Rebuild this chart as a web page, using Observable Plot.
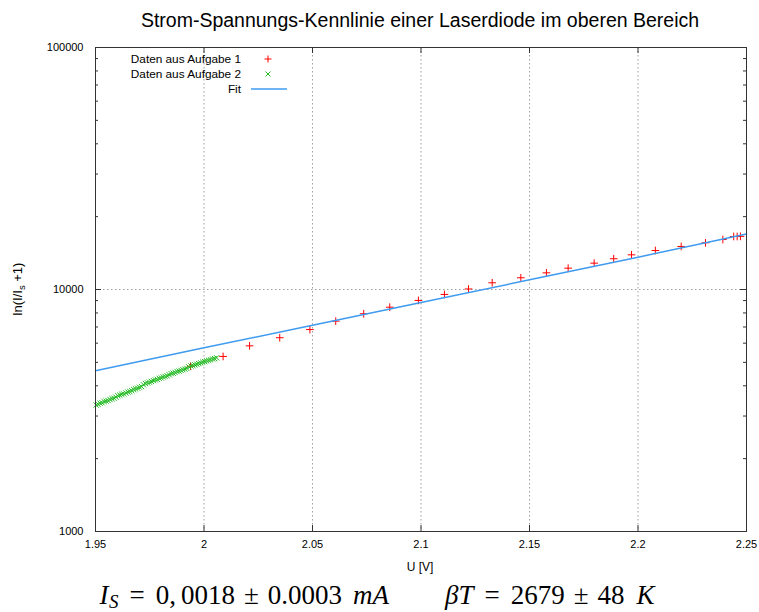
<!DOCTYPE html>
<html><head><meta charset="utf-8">
<script src="https://cdn.jsdelivr.net/npm/d3@7"></script>
<script src="https://cdn.jsdelivr.net/npm/@observablehq/plot@0.6"></script>
<style>body{margin:0;background:#fff} #chart{width:759px;height:612px}</style>
</head><body><div id="chart"></div>
<script>
const titleText = "Strom-Spannungs-Kennlinie einer Laserdiode im oberen Bereich";
const xLabel = "U [V]";
const legendLabels = ["Daten aus Aufgabe 1", "Daten aus Aufgabe 2", "Fit"];
const xTicks = [1.95, 2, 2.05, 2.1, 2.15, 2.2, 2.25];
const xTickLabels = ["1.95", "2", "2.05", "2.1", "2.15", "2.2", "2.25"];
const yTicks = [1000, 10000, 100000];
const yTickLabels = ["1000", "10000", "100000"];
const yMinorTicks = [2000,3000,4000,5000,6000,7000,8000,9000,20000,30000,40000,50000,60000,70000,80000,90000];

// Daten aus Aufgabe 1
const a1U = [1.9938,2.0088,2.0210,2.0349,2.0488,2.0607,2.0736,2.0856,2.0988,2.1108,2.1219,2.1328,2.1460,2.1578,2.1678,2.1798,2.1888,2.1970,2.2080,2.2199,2.2311,2.2391,2.2441,2.2457,2.2472];
const a1V = [4820,5290,5850,6320,6830,7400,7940,8450,9010,9540,10050,10660,11180,11720,12250,12850,13400,13910,14490,15060,15600,16090,16560,16560,16580];

// Daten aus Aufgabe 2
const a2U = [1.9503,1.9512,1.9521,1.9530,1.9540,1.9549,1.9558,1.9567,1.9576,1.9585,1.9594,1.9603,1.9612,1.9621,1.9630,1.9640,1.9649,1.9658,1.9667,1.9676,1.9685,1.9694,1.9703,1.9712,1.9721,1.9730,1.9740,1.9749,1.9758,1.9767,1.9776,1.9785,1.9794,1.9803,1.9812,1.9821,1.9830,1.9840,1.9849,1.9858,1.9867,1.9876,1.9885,1.9894,1.9903,1.9912,1.9921,1.9930,1.9940,1.9949,1.9958,1.9967,1.9976,1.9985,1.9994,2.0003,2.0012,2.0021,2.0030,2.0040,2.0049,2.0058];
const a2V = [3330,3355,3390,3405,3440,3460,3475,3510,3540,3555,3590,3640,3660,3690,3700,3735,3770,3790,3820,3860,3880,3910,3945,3970,4040,4090,4110,4140,4170,4200,4230,4250,4290,4310,4350,4370,4400,4440,4490,4510,4540,4580,4600,4630,4660,4690,4720,4790,4830,4850,4880,4910,4940,4970,5010,5030,5070,5100,5120,5160,5180,5220];

// Fit
const fitU = [1.95, 2.0, 2.05, 2.1, 2.15, 2.2, 2.25];
const fitV = [4620, 5741, 7119, 8836, 10965, 13600, 16950];

// formula text pieces: [text, italic, subscript]
const formulaParts = [
  ["I", true, false], ["S", true, true], ["=", false, false], ["0,", false, false], ["0018", false, false],
  ["±", false, false], ["0.0003", false, false], ["mA", true, false],
  ["βT", true, false], ["=", false, false], ["2679", false, false], ["±", false, false], ["48", false, false], ["K", true, false]
];
const formulaGaps = [0, 0.5, 11, 11, 5, 9, 9, 11, 56, 11, 11, 9, 9, 12];

const a1 = a1U.map((u, i) => ({U: u, V: a1V[i]}));
const a2 = a2U.map((u, i) => ({U: u, V: a2V[i]}));
const fit = fitU.map((u, i) => ({U: u, V: fitV[i]}));

const W = 759, H = 612, mL = 95, mR = 13, mT = 47, mB = 81;
const iw = W - mL - mR, ih = H - mT - mB;
const font = "'Liberation Sans', Arial, sans-serif";
const axisColor = "#333";
const gridStyle = {stroke: "#a0a0a0", strokeDasharray: "1.5,2.5", strokeWidth: 1};

const chart = Plot.plot({
  width: W, height: H,
  marginLeft: mL, marginRight: mR, marginTop: mT, marginBottom: mB,
  style: {fontFamily: font, fontSize: "11px", color: "#000", background: "#fff"},
  x: {domain: [1.95, 2.25], ticks: xTicks, tickFormat: d => xTickLabels[xTicks.indexOf(d)], tickSize: 0, tickPadding: 9, label: null},
  y: {type: "log", domain: [1000, 100000], ticks: yTicks, tickFormat: d => yTickLabels[yTicks.indexOf(d)], tickSize: 0, tickPadding: 12, label: null},
  marks: [
    Plot.ruleX(xTicks.slice(1, -1), {x: d => d, ...gridStyle}),
    Plot.ruleY([10000], {y: d => d, ...gridStyle}),
    Plot.dot(a1, {x: "U", y: "V", symbol: "plus", r: 2.6, stroke: "#ff0000", strokeWidth: 1}),
    Plot.dot(a2, {x: "U", y: "V", symbol: "times", r: 2.5, stroke: "#22bb22", strokeWidth: 1}),
    Plot.line(fit, {x: "U", y: "V", stroke: "#3f9bf0", strokeWidth: 1.5}),
    Plot.frame({stroke: axisColor}),
    Plot.tickX(xTicks, {x: d => d, insetTop: ih - 6, stroke: axisColor}),
    Plot.tickX(xTicks, {x: d => d, insetBottom: ih - 6, stroke: axisColor}),
    Plot.tickY(yTicks, {y: d => d, insetRight: iw - 6, stroke: axisColor}),
    Plot.tickY(yTicks, {y: d => d, insetLeft: iw - 6, stroke: axisColor}),
    Plot.tickY(yMinorTicks, {y: d => d, insetRight: iw - 3, stroke: axisColor}),
    Plot.tickY(yMinorTicks, {y: d => d, insetLeft: iw - 3, stroke: axisColor})
  ]
});
document.getElementById("chart").appendChild(chart);

const svg = d3.select(chart);
// title
svg.append("text").attr("x", 420).attr("y", 27).attr("text-anchor", "middle")
  .style("font-size", "19.5px").style("font-family", font).attr("fill", "#000").text(titleText);

// legend
const leg = svg.append("g").style("font-family", font).style("font-size", "11.8px");
const legY = [59, 74, 89];
legendLabels.forEach((t, i) => {
  leg.append("text").attr("x", 241).attr("y", legY[i] + 4).attr("text-anchor", "end").attr("fill", "#000").text(t);
});
leg.append("path").attr("d", "M264.5,59H271.5M268,55.5V62.5").attr("stroke", "#ff0000").attr("fill", "none");
leg.append("path").attr("d", "M265.5,71.5L270.5,76.5M265.5,76.5L270.5,71.5").attr("stroke", "#22bb22").attr("fill", "none");
leg.append("path").attr("d", "M251,89H287").attr("stroke", "#3f9bf0").attr("stroke-width", 1.5);

// y label
const yl = svg.append("text").attr("transform", "translate(22,289) rotate(-90)").attr("text-anchor", "middle")
  .style("font-family", font).style("font-size", "13px").attr("fill", "#000");
yl.append("tspan").text("ln(I/I");
yl.append("tspan").attr("dy", 3).style("font-size", "9.5px").text("s");
yl.append("tspan").attr("dy", -3).text(" +1)");

// x label
svg.append("text").attr("x", 420).attr("y", 571).attr("text-anchor", "middle")
  .style("font-family", font).style("font-size", "12px").attr("fill", "#000").text(xLabel);

// formula
const serif = "'Liberation Serif', 'DejaVu Serif', serif";
const ft = svg.append("text").attr("x", 99.5).attr("y", 604).attr("text-anchor", "start")
  .style("font-family", serif).style("font-size", "27px").attr("fill", "#000");
let sub = false;
formulaParts.forEach(([t, it, s], i) => {
  const ts = ft.append("tspan").attr("dx", formulaGaps[i]).text(t);
  if (it) ts.style("font-style", "italic");
  if (s) ts.style("font-size", "19px");
  if (s && !sub) ts.attr("dy", 4);
  if (!s && sub) ts.attr("dy", -4);
  sub = s;
});
</script>
</body></html>
